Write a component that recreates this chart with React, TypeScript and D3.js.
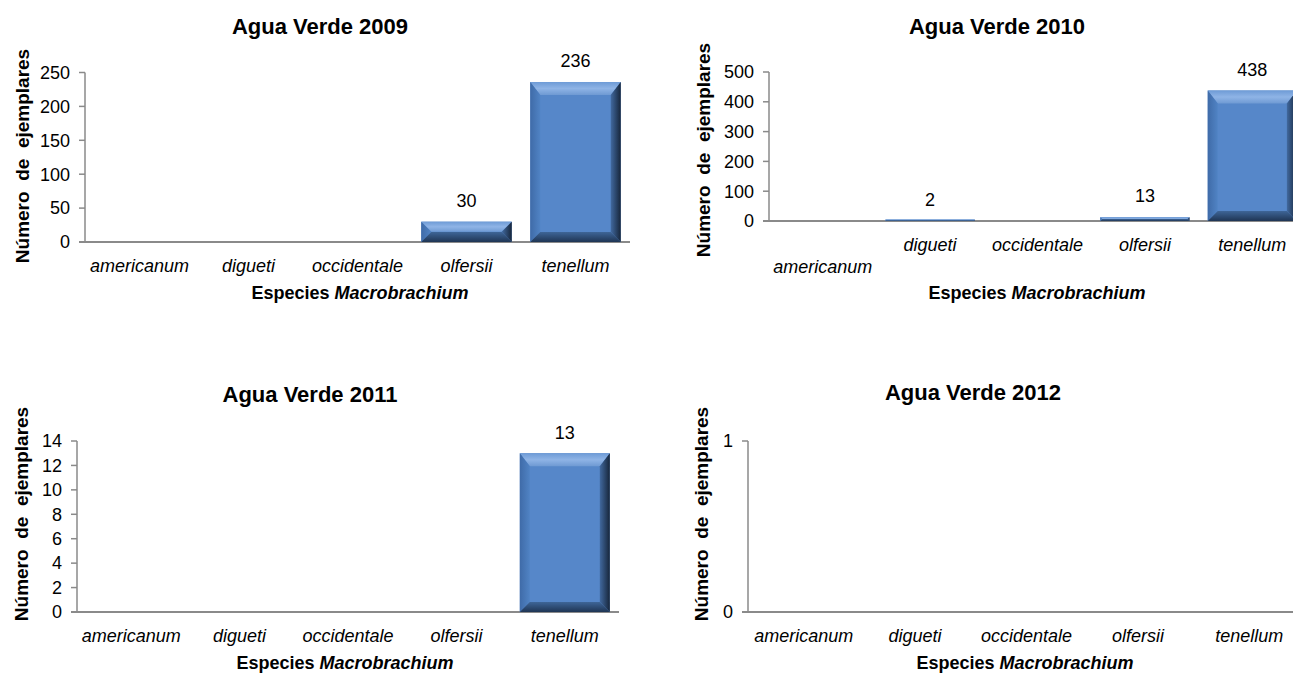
import React from 'react';
import * as d3 from 'd3';

const categories = ['americanum', 'digueti', 'occidentale', 'olfersii', 'tenellum'];
const titles = ['Agua Verde 2009', 'Agua Verde 2010', 'Agua Verde 2011', 'Agua Verde 2012'];
const values2009 = [0, 0, 0, 30, 236];
const values2010 = [0, 2, 0, 13, 438];
const values2011 = [0, 0, 0, 0, 13];
const values2012 = [0, 0, 0, 0, 0];
const ticks2009 = [0, 50, 100, 150, 200, 250];
const ticks2010 = [0, 100, 200, 300, 400, 500];
const ticks2011 = [0, 2, 4, 6, 8, 10, 12, 14];
const ticks2012 = [0, 1];
const yAxisTitle = 'Número de ejemplares';
const xAxisTitlePlain = 'Especies ';
const xAxisTitleItalic = 'Macrobrachium';

const FONT = '"Liberation Sans", Arial, Helvetica, sans-serif';
const AXIS = '#8a8a8a';

type Layout = {
  x0: number; x1: number; yZero: number; yTop: number;
  titleX: number; titleY: number; yLabX: number; yLabY: number;
  xTitleX: number; xTitleY: number; lowerFirst: boolean;
};

const layouts: Layout[] = [
  { x0: 85, x1: 630, yZero: 242, yTop: 72.5, titleX: 320, titleY: 34, yLabX: 22, yLabY: 156, xTitleX: 360, xTitleY: 299, lowerFirst: false },
  { x0: 769, x1: 1306, yZero: 221, yTop: 72, titleX: 997, titleY: 34, yLabX: 703, yLabY: 150, xTitleX: 1037, xTitleY: 299, lowerFirst: true },
  { x0: 77, x1: 619, yZero: 612, yTop: 441, titleX: 310, titleY: 402, yLabX: 21, yLabY: 514, xTitleX: 345, xTitleY: 669, lowerFirst: false },
  { x0: 748, x1: 1305, yZero: 612, yTop: 441, titleX: 973, titleY: 400, yLabX: 701, yLabY: 514, xTitleX: 1025, xTitleY: 669, lowerFirst: false },
];

function Bar({ x, y, w, h }: { x: number; y: number; w: number; h: number }) {
  if (h <= 0) return null;
  const hh = Math.max(h, 1.5);
  const yy = y + h - hh;
  const bt = Math.min(13, hh / 2);
  const bs = Math.min(10, w / 2, hh / 2);
  const bb = Math.min(10, hh / 2);
  const L = x, R = x + w, T = yy, B = yy + hh;
  const p = (pts: number[][]) => pts.map((q) => q.join(',')).join(' ');
  return (
    <g>
      <rect x={L} y={T} width={w} height={hh} fill="#5687c9" />
      <polygon points={p([[L, T], [R, T], [R - bs, T + bt], [L + bs, T + bt]])} fill="url(#bevTop)" />
      <polygon points={p([[L, T], [L + bs, T + bt], [L + bs, B - bb], [L, B]])} fill="url(#bevLeft)" />
      <polygon points={p([[R, T], [R, B], [R - bs, B - bb], [R - bs, T + bt]])} fill="url(#bevRight)" />
      <polygon points={p([[L, B], [L + bs, B - bb], [R - bs, B - bb], [R, B]])} fill="url(#bevBottom)" />
    </g>
  );
}

function Panel({ title, values, ticks, lay }: { title: string; values: number[]; ticks: number[]; lay: Layout }) {
  const x = d3.scaleBand<string>().domain(categories).range([lay.x0, lay.x1]).paddingInner(0.17).paddingOuter(0.085);
  const y = d3.scaleLinear().domain([0, ticks[ticks.length - 1]]).range([lay.yZero, lay.yTop]);
  return (
    <g fontFamily={FONT}>
      <text x={lay.titleX} y={lay.titleY} textAnchor="middle" fontWeight="bold" fontSize={22} fill="#000">{title}</text>
      <text transform={`translate(${lay.yLabX},${lay.yLabY}) rotate(-90)`} textAnchor="middle" dy="0.35em" fontWeight="bold" fontSize={19} fill="#000" style={{ whiteSpace: 'pre' }}>{yAxisTitle.split(' ').join('  ')}</text>
      <line x1={lay.x0} x2={lay.x0} y1={lay.yTop} y2={lay.yZero} stroke={AXIS} strokeWidth={1.5} />
      {ticks.map((t) => (
        <g key={t}>
          <line x1={lay.x0 - 6} x2={lay.x0} y1={y(t)} y2={y(t)} stroke={AXIS} strokeWidth={1.5} />
          <text x={lay.x0 - 15} y={y(t)} dy="0.35em" textAnchor="end" fontSize={18} fill="#000">{t}</text>
        </g>
      ))}
      <line x1={lay.x0 - 6} x2={lay.x1} y1={lay.yZero} y2={lay.yZero} stroke={AXIS} strokeWidth={2} />
      {categories.map((c, i) => {
        const v = values[i];
        const bx = x(c)!;
        const bw = x.bandwidth();
        const top = y(v);
        const cx = bx + bw / 2;
        return (
          <g key={c}>
            {v > 0 && <Bar x={bx} y={top} w={bw} h={lay.yZero - top} />}
            {v > 0 && <text x={cx} y={top - 21} dy="0.35em" textAnchor="middle" fontSize={18} fill="#000">{v}</text>}
            <text x={cx} y={lay.yZero + (lay.lowerFirst && i === 0 ? 46 : 24)} dy="0.35em" textAnchor="middle" fontSize={18} fontStyle="italic" fill="#000">{c}</text>
          </g>
        );
      })}
      <text x={lay.xTitleX} y={lay.xTitleY} textAnchor="middle" fontWeight="bold" fontSize={18} fill="#000" style={{ whiteSpace: 'pre' }}>
        {xAxisTitlePlain}<tspan fontStyle="italic">{xAxisTitleItalic}</tspan>
      </text>
    </g>
  );
}

export default function App() {
  const data = [values2009, values2010, values2011, values2012];
  const tickSets = [ticks2009, ticks2010, ticks2011, ticks2012];
  return (
    <svg width={1293} height={673} style={{ position: 'absolute', left: 0, top: 0, background: '#fff' }}>
      <defs>
        <linearGradient id="bevTop" x1="0" y1="0" x2="0" y2="1">
          <stop offset="0" stopColor="#6e9bd6" />
          <stop offset="0.5" stopColor="#8fb4e6" />
          <stop offset="1" stopColor="#6f9ad3" />
        </linearGradient>
        <linearGradient id="bevLeft" x1="0" y1="0" x2="1" y2="0">
          <stop offset="0" stopColor="#3f6ba8" />
          <stop offset="1" stopColor="#5083c4" />
        </linearGradient>
        <linearGradient id="bevRight" x1="0" y1="0" x2="1" y2="0">
          <stop offset="0" stopColor="#41699f" />
          <stop offset="1" stopColor="#17263b" />
        </linearGradient>
        <linearGradient id="bevBottom" x1="0" y1="0" x2="0" y2="1">
          <stop offset="0" stopColor="#3e6597" />
          <stop offset="1" stopColor="#1f3554" />
        </linearGradient>
      </defs>
      <rect width={1293} height={673} fill="#fff" />
      {layouts.map((lay, i) => (
        <Panel key={i} title={titles[i]} values={data[i]} ticks={tickSets[i]} lay={lay} />
      ))}
    </svg>
  );
}
